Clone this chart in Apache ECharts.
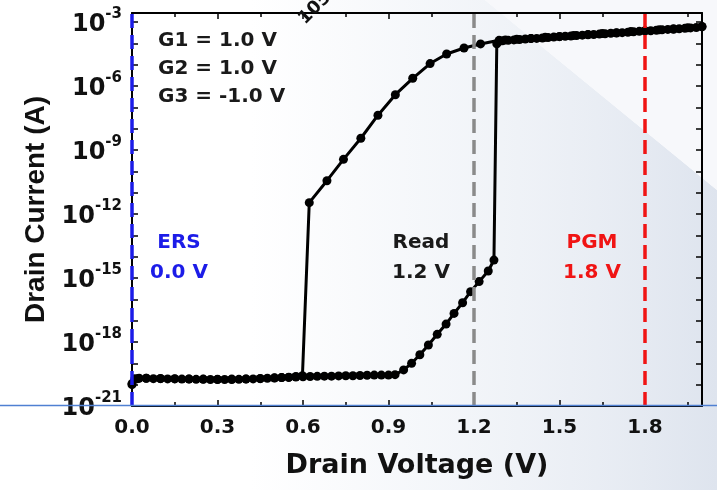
<!DOCTYPE html>
<html><head><meta charset="utf-8">
<script src="https://cdn.jsdelivr.net/npm/echarts@6/dist/echarts.min.js"></script>
<style>html,body{margin:0;padding:0;background:#fff}#c{width:717px;height:490px}</style>
</head><body><div id="c"></div>
<script>
// Forward sweep (0 -> 2.0 V): drain voltage (V) and log10 of drain current (A)
const fwdV = [0.000,0.010,0.025,0.050,0.075,0.100,0.125,0.150,0.175,0.200,
  0.225,0.250,0.275,0.300,0.325,0.350,0.375,0.400,0.425,0.450,
  0.475,0.500,0.525,0.550,0.575,0.600,0.625,0.650,0.675,0.700,
  0.725,0.750,0.775,0.800,0.825,0.850,0.875,0.900,0.923,
  0.953,0.981,1.010,1.040,1.071,1.102,1.130,1.160,1.188,1.218,1.250,1.270,
  1.280,1.290,
  1.30,1.32,1.34,1.36,1.38,1.40,1.42,1.44,1.46,1.48,1.50,1.52,1.54,1.56,1.58,1.60,1.62,1.64,
  1.66,1.68,1.70,1.72,1.74,1.76,1.78,1.80,1.82,1.84,1.86,1.88,1.90,1.92,1.94,1.96,1.98,2.00];
const fwdLogI = [-20.00,-19.72,-19.70,-19.70,-19.72,-19.71,-19.73,-19.72,-19.74,-19.73,
  -19.75,-19.74,-19.76,-19.75,-19.76,-19.76,-19.75,-19.74,-19.73,-19.72,
  -19.70,-19.68,-19.67,-19.66,-19.64,-19.63,-19.62,-19.61,-19.60,-19.60,
  -19.59,-19.58,-19.58,-19.57,-19.56,-19.55,-19.55,-19.55,-19.53,
  -19.31,-19.00,-18.60,-18.14,-17.64,-17.16,-16.66,-16.16,-15.64,-15.17,-14.67,-14.16,
  -4.02,-3.90,
  -3.88,-3.86,-3.84,-3.82,-3.80,-3.78,-3.77,-3.75,-3.73,-3.71,-3.69,-3.67,-3.66,-3.64,-3.62,-3.60,-3.59,-3.57,
  -3.55,-3.53,-3.52,-3.50,-3.48,-3.46,-3.44,-3.42,-3.41,-3.39,-3.37,-3.35,-3.34,-3.32,-3.30,-3.28,-3.26,-3.23];

// Reverse sweep (2.0 -> 0 V)
const revV = [2.00,1.95,1.90,1.85,1.80,1.75,1.70,1.65,1.60,1.55,1.50,1.45,1.40,1.35,1.31,
  1.288,1.223,1.165,1.104,1.046,0.985,0.924,0.863,0.803,0.742,0.684,0.622,
  0.598,0.575,0.550,0.525,0.500,0.450,0.400,0.350,0.300,0.250,0.200,0.150,0.100,0.050,0.020,0.000];
const revLogI = [-3.21,-3.27,-3.32,-3.37,-3.41,-3.45,-3.50,-3.54,-3.59,-3.63,-3.68,-3.72,-3.77,-3.81,-3.84,
  -3.86,-4.03,-4.22,-4.50,-4.95,-5.64,-6.41,-7.37,-8.45,-9.44,-10.44,-11.47,
  -19.58,-19.62,-19.65,-19.67,-19.69,-19.71,-19.73,-19.74,-19.76,-19.75,-19.74,-19.73,-19.72,-19.70,-19.72,-19.95];

// Tick labels
const xTickLabels = ['0.0','0.3','0.6','0.9','1.2','1.5','1.8'];
const yTickExponents = [-21,-18,-15,-12,-9,-6,-3];

// Reference voltages: erase, read, program
const refVoltages = [0.0, 1.2, 1.8];
const refNames = ['ERS', 'Read', 'PGM'];
const refTexts = ['0.0 V', '1.2 V', '1.8 V'];
const gateLabels = ['G1 = 1.0 V', 'G2 = 1.0 V', 'G3 = -1.0 V'];

// ---- styles ----
const refColors = ['#1c1ce8', '#8a8a8a', '#f01414'];
const refTextColors = ['#1c1ce8', '#1a1a1a', '#f01414'];
const refLabelX = [179, 421, 592];
const FONT = 'DejaVu Sans';

const chart = echarts.init(document.getElementById('c'), null, {renderer: 'canvas'});

function xFmt(v) {
  const s = v.toFixed(1);
  return xTickLabels.indexOf(s) >= 0 && Math.abs(v - parseFloat(s)) < 1e-6 ? s : '';
}
function yFmt(v) {
  const r = Math.round(v);
  if (Math.abs(v - r) > 1e-6 || yTickExponents.indexOf(r) < 0) return '';
  return '{b|10}{s|' + r + '}';
}

const axisLineStyle = {color: '#000', width: 2};
const tickStyle = {color: '#000', width: 1.5};

const markLineData = refVoltages.map((v, i) => ({
  xAxis: v,
  lineStyle: {color: refColors[i], width: 3.5, type: [14, 7]}
}));

const graphics = [
  // background shading
  {type: 'polygon', z: -10, silent: true,
   shape: {points: [[250, 0], [485, 0], [717, 190], [717, 490], [250, 490]]},
   style: {fill: new echarts.graphic.LinearGradient(0, 0, 1, 0, [
     {offset: 0, color: 'rgba(236,240,246,0)'}, {offset: 0.35, color: 'rgba(236,240,246,0.5)'},
     {offset: 1, color: 'rgba(222,228,238,1)'}])}},
  {type: 'polygon', z: -10, silent: true,
   shape: {points: [[485, 0], [717, 0], [717, 190]]},
   style: {fill: 'rgba(247,248,251,1)'}},
  // thin blue line across the figure
  {type: 'line', z: 100, silent: true,
   shape: {x1: 0, y1: 405.5, x2: 717, y2: 405.5},
   style: {stroke: '#4f80d2', lineWidth: 1.5}},
  // stray rotated text at the top
  {type: 'text', z: 50, silent: true, x: 308, y: 28, rotation: Math.PI / 4,
   style: {text: '105', font: 'bold 18px "DejaVu Sans"', fill: '#111', textVerticalAlign: 'bottom'}}
];
gateLabels.forEach((t, i) => {
  graphics.push({type: 'text', z: 50, silent: true, x: 158, y: 41 + i * 28,
    style: {text: t, font: 'bold 20px "DejaVu Sans"', fill: '#1a1a1a', textVerticalAlign: 'middle'}});
});
refNames.forEach((t, i) => {
  graphics.push({type: 'text', z: 50, silent: true, x: refLabelX[i], y: 243,
    style: {text: t, font: 'bold 20px "DejaVu Sans"', fill: refTextColors[i], textAlign: 'center', textVerticalAlign: 'middle'}});
  graphics.push({type: 'text', z: 50, silent: true, x: refLabelX[i], y: 273,
    style: {text: refTexts[i], font: 'bold 20px "DejaVu Sans"', fill: refTextColors[i], textAlign: 'center', textVerticalAlign: 'middle'}});
});

const option = {
  backgroundColor: '#ffffff',
  animation: false,
  grid: {left: 132, right: 15, top: 13, bottom: 84, containLabel: false},
  xAxis: [{
    type: 'value', min: 0, max: 2.0, interval: 0.3, position: 'bottom',
    axisLine: {show: true, onZero: false, lineStyle: axisLineStyle},
    axisTick: {show: true, inside: true, length: 6, lineStyle: tickStyle},
    minorTick: {show: true, splitNumber: 2, length: 4, lineStyle: tickStyle},
    splitLine: {show: false},
    axisLabel: {formatter: xFmt, fontFamily: FONT, fontWeight: 'bold', fontSize: 20, color: '#111', margin: 12, showMaxLabel: false},
    name: 'Drain Voltage (V)', nameLocation: 'middle', nameGap: 46,
    nameTextStyle: {fontFamily: FONT, fontWeight: 'bold', fontSize: 27, color: '#111'}
  }, {
    type: 'value', min: 0, max: 2.0, interval: 0.3, position: 'top',
    axisLine: {show: true, onZero: false, lineStyle: axisLineStyle},
    axisTick: {show: true, inside: true, length: 6, lineStyle: tickStyle},
    minorTick: {show: true, splitNumber: 2, length: 4, lineStyle: tickStyle},
    splitLine: {show: false}, axisLabel: {show: false}
  }],
  yAxis: [{
    type: 'value', min: -21, max: -2.58, interval: 1, position: 'left',
    axisLine: {show: true, onZero: false, lineStyle: axisLineStyle},
    axisTick: {show: true, inside: true, length: 6, lineStyle: tickStyle},
    splitLine: {show: false},
    axisLabel: {formatter: yFmt, margin: 10, showMaxLabel: false, showMinLabel: true,
      rich: {
        b: {fontFamily: FONT, fontWeight: 'bold', fontSize: 24, color: '#111', lineHeight: 30, verticalAlign: 'bottom'},
        s: {fontFamily: FONT, fontWeight: 'bold', fontSize: 15, color: '#111', lineHeight: 30, verticalAlign: 'top'}
      }},
    name: 'Drain Current (A)', nameLocation: 'middle', nameGap: 78, nameRotate: 90,
    nameTextStyle: {fontFamily: 'Liberation Sans', fontWeight: 'bold', fontSize: 28, color: '#111'}
  }, {
    type: 'value', min: -21, max: -2.58, interval: 1, position: 'right',
    axisLine: {show: true, onZero: false, lineStyle: axisLineStyle},
    axisTick: {show: true, inside: true, length: 6, lineStyle: tickStyle},
    splitLine: {show: false}, axisLabel: {show: false}
  }],
  series: [{
    name: 'Forward', type: 'line', xAxisIndex: 0, yAxisIndex: 0,
    data: fwdV.map((v, i) => [v, fwdLogI[i]]),
    symbol: 'circle', symbolSize: 9, showSymbol: true,
    lineStyle: {color: '#000', width: 3}, itemStyle: {color: '#000'},
    z: 3
  }, {
    name: 'Reverse', type: 'line', xAxisIndex: 0, yAxisIndex: 0,
    data: revV.map((v, i) => [v, revLogI[i]]),
    symbol: 'circle', symbolSize: 9, showSymbol: true,
    lineStyle: {color: '#000', width: 3}, itemStyle: {color: '#000'},
    z: 3,
    markLine: {silent: true, symbol: ['none', 'none'], label: {show: false}, z: 10,
      data: markLineData}
  }],
  graphic: graphics
};
chart.setOption(option);
</script></body></html>
